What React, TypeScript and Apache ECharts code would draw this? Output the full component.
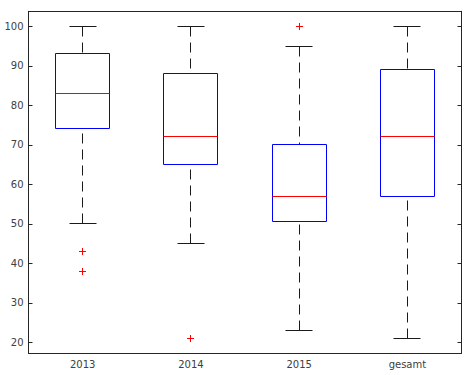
import React, { useEffect, useRef } from "react";
import * as echarts from "echarts";

const categories = ["2013", "2014", "2015", "gesamt"];
// [lower whisker, Q1, median, Q3, upper whisker]
const boxStats = [
  [50, 74, 83, 93, 100],
  [45, 65, 72, 88, 100],
  [23, 50.5, 57, 70, 95],
  [21, 57, 72, 89, 100],
];
// [category index, value]
const outliers = [
  [0, 43],
  [0, 38],
  [1, 21],
  [2, 100],
];
const yMin = 17.2;
const yMax = 103.8;

const axisColor = "#262626";
const labelColor = "#404040";

const px = (v: number) => Math.round(v - 0.5) + 0.5;

export default function App() {
  const ref = useRef<HTMLDivElement>(null);
  useEffect(() => {
    if (!ref.current) return;
    const chart = echarts.init(ref.current, null, { renderer: "svg" });
    const catAxisBase = {
      type: "category" as const,
      data: categories,
      boundaryGap: true,
      axisLine: { lineStyle: { color: axisColor, width: 1 } },
      axisTick: { inside: true, alignWithLabel: true, length: 4, lineStyle: { color: axisColor } },
      splitLine: { show: false },
    };
    const valAxisBase = {
      type: "value" as const,
      min: yMin,
      max: yMax,
      splitNumber: 8,
      axisLine: { show: true, lineStyle: { color: axisColor, width: 1 } },
      axisTick: { show: true, inside: true, length: 4, lineStyle: { color: axisColor } },
      splitLine: { show: false },
    };
    chart.setOption({
      animation: false,
      grid: { left: 28.5, right: 8.5, top: 11.3, bottom: 21.7, containLabel: false },
      xAxis: [
        {
          ...catAxisBase,
          position: "bottom",
          axisLabel: { color: labelColor, fontFamily: "DejaVu Sans", fontSize: 10, margin: 6 },
        },
        { ...catAxisBase, position: "top", axisLabel: { show: false } },
      ],
      yAxis: [
        {
          ...valAxisBase,
          position: "left",
          axisLabel: {
            color: labelColor,
            fontFamily: "DejaVu Sans",
            fontSize: 10,
            margin: 5,
            showMinLabel: false,
            showMaxLabel: false,
          },
        },
        { ...valAxisBase, position: "right", axisLabel: { show: false } },
      ],
      series: [
        {
          type: "custom",
          xAxisIndex: 0,
          yAxisIndex: 0,
          clip: false,
          data: boxStats.map((s, i) => [i, ...s]),
          renderItem: (params: any, api: any) => {
            const idx = api.value(0);
            const lo = api.coord([idx, api.value(1)]);
            const q1 = api.coord([idx, api.value(2)]);
            const med = api.coord([idx, api.value(3)]);
            const q3 = api.coord([idx, api.value(4)]);
            const hi = api.coord([idx, api.value(5)]);
            const bw = api.size([1, 0])[0];
            const cx = px(lo[0]);
            const boxL = px(lo[0] - bw * 0.25);
            const boxR = px(lo[0] + bw * 0.25);
            const capL = px(lo[0] - bw * 0.125);
            const capR = px(lo[0] + bw * 0.125);
            const yLo = px(lo[1]);
            const yQ1 = px(q1[1]);
            const yMed = px(med[1]);
            const yQ3 = px(q3[1]);
            const yHi = px(hi[1]);
            const dashStyle = { stroke: "#1a1a1a", lineWidth: 1, lineDash: [10, 6] };
            const solid = { stroke: "#1a1a1a", lineWidth: 1 };
            return {
              type: "group",
              children: [
                { type: "line", shape: { x1: cx, y1: yHi, x2: cx, y2: yQ3 }, style: dashStyle },
                { type: "line", shape: { x1: cx, y1: yLo, x2: cx, y2: yQ1 }, style: dashStyle },
                { type: "line", shape: { x1: capL, y1: yHi, x2: capR, y2: yHi }, style: solid },
                { type: "line", shape: { x1: capL, y1: yLo, x2: capR, y2: yLo }, style: solid },
                {
                  type: "rect",
                  shape: { x: boxL, y: yQ3, width: boxR - boxL, height: yQ1 - yQ3 },
                  style: { fill: "none", stroke: "#0000ff", lineWidth: 1 },
                },
                {
                  type: "line",
                  shape: { x1: boxL, y1: yMed, x2: boxR, y2: yMed },
                  style: { stroke: "#ff0000", lineWidth: 1 },
                },
              ],
            };
          },
        },
        {
          type: "custom",
          xAxisIndex: 0,
          yAxisIndex: 0,
          clip: false,
          data: outliers,
          renderItem: (params: any, api: any) => {
            const p = api.coord([api.value(0), api.value(1)]);
            const x = px(p[0]);
            const y = px(p[1]);
            const h = 3.5;
            const st = { stroke: "#ff0000", lineWidth: 1 };
            return {
              type: "group",
              children: [
                { type: "line", shape: { x1: x - h, y1: y, x2: x + h, y2: y }, style: st },
                { type: "line", shape: { x1: x, y1: y - h, x2: x, y2: y + h }, style: st },
              ],
            };
          },
        },
      ],
    });
    return () => chart.dispose();
  }, []);
  return (
    <div
      ref={ref}
      style={{ position: "fixed", left: 0, top: 0, width: 470, height: 375, background: "#fff" }}
    />
  );
}
